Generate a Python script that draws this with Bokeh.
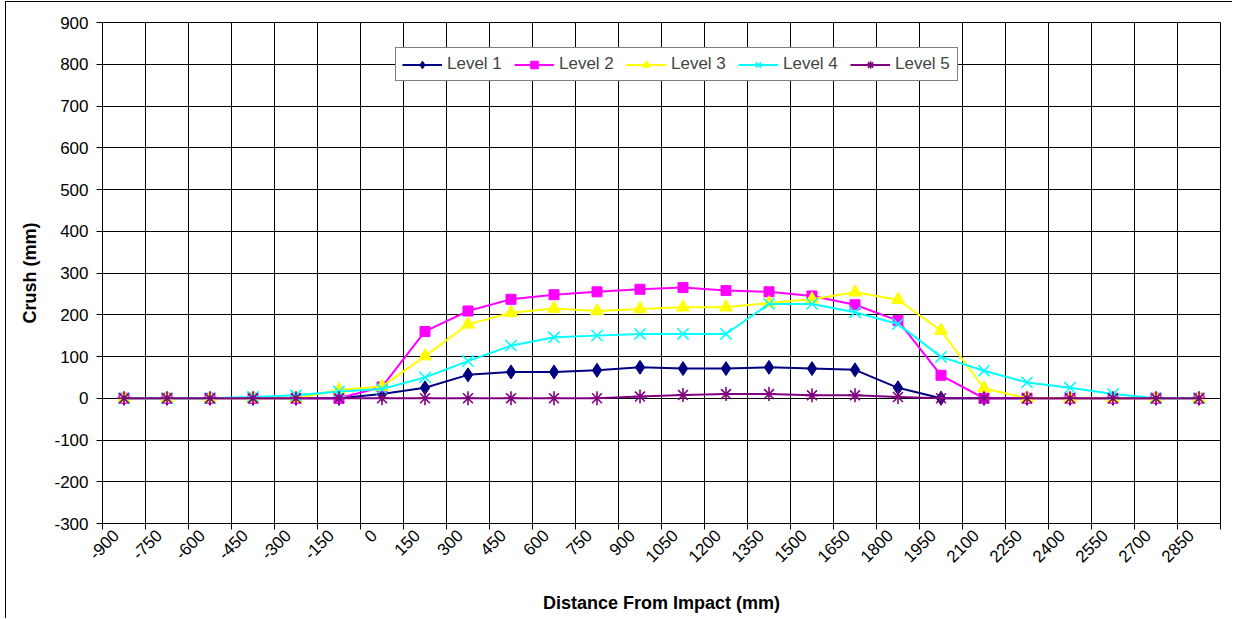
import math
from bokeh.plotting import figure
from bokeh.models import FixedTicker, Range1d, Legend, LegendItem
from bokeh.embed import file_html
from bokeh.resources import INLINE

# ---- data ----
distance = [-900, -750, -600, -450, -300, -150, 0, 150, 300, 450, 600, 750, 900,
            1050, 1200, 1350, 1500, 1650, 1800, 1950, 2100, 2250, 2400, 2550, 2700, 2850]
level1 = [0, 0, 0, 0, 0, 0, 10, 25, 56, 63, 63, 67, 74, 71, 71, 74, 71, 68, 25, 0, 0, 0, 0, 0, 0, 0]
level2 = [0, 0, 0, 0, 0, 0, 27, 160, 209, 237, 248, 255, 261, 265, 258, 255, 245, 224, 186, 55, 0, 0, 0, 0, 0, 0]
level3 = [0, 0, 0, 0, 0, 20, 28, 101, 177, 205, 215, 209, 214, 218, 218, 228, 237, 254, 236, 162, 24, 0, 0, 0, 0, 0]
level4 = [0, 0, 0, 3, 7, 16, 22, 50, 89, 126, 146, 150, 154, 154, 154, 226, 226, 206, 178, 99, 66, 38, 25, 10, 0, 0]
level5 = [0, 0, 0, 0, 0, 0, 0, 0, 0, 0, 0, 0, 4, 8, 10, 10, 7, 7, 3, 0, 0, 0, 0, 0, 0, 0]
series_names = ["Level 1", "Level 2", "Level 3", "Level 4", "Level 5"]
y_ticks = [-300, -200, -100, 0, 100, 200, 300, 400, 500, 600, 700, 800, 900]

FONT = "Liberation Sans"
step = 150
boundaries = [distance[0] - step / 2 + step * k for k in range(len(distance) + 1)]
label_shift = step * 8 / 43  # rotated labels sit slightly left of the category centre
label_pos = [d - label_shift for d in distance]

p = figure(width=1227, height=617, output_backend="svg", toolbar_location=None,
           x_range=Range1d(boundaries[0], boundaries[-1]), y_range=Range1d(-300, 900),
           min_border_left=96, min_border_right=13, min_border_top=20, min_border_bottom=96)
p.styles = {"margin-left": "5px", "margin-top": "1px",
            "border-left": "1px solid black", "border-top": "1px solid black"}
p.background_fill_color = "white"
p.border_fill_color = "white"
p.outline_line_color = "black"
p.outline_line_width = 1

# x axis (category style: labels at centres, ticks & grid at boundaries)
p.xaxis.ticker = FixedTicker(ticks=label_pos, minor_ticks=boundaries)
p.xaxis.major_label_overrides = {lp: str(d) for lp, d in zip(label_pos, distance)}
p.xaxis.major_tick_line_color = None
p.xaxis.minor_tick_line_color = "black"
p.xaxis.minor_tick_out = 6
p.xaxis.minor_tick_in = 0
p.xaxis.major_label_orientation = math.pi / 4
p.xaxis.major_label_standoff = 3
p.xaxis.axis_label = "Distance From Impact (mm)"
p.xaxis.axis_label_standoff = 22
p.xgrid.ticker = FixedTicker(ticks=boundaries)

# y axis
p.yaxis.ticker = FixedTicker(ticks=y_ticks)
p.yaxis.major_label_overrides = {v: str(v) for v in y_ticks}
p.yaxis.minor_tick_line_color = None
p.yaxis.major_tick_out = 6
p.yaxis.major_tick_in = 0
p.yaxis.major_label_standoff = 8
p.yaxis.axis_label = "Crush (mm)"
p.yaxis.axis_label_standoff = 11

for ax in (p.xaxis, p.yaxis):
    ax.axis_line_color = "black"
    ax.major_label_text_font = FONT
    ax.major_label_text_font_size = "17px"
    ax.major_label_text_color = "black"
    ax.axis_label_text_font = FONT
    ax.axis_label_text_font_size = "18px"
    ax.axis_label_text_font_style = "bold"
    ax.axis_label_text_color = "black"

for g in (p.xgrid, p.ygrid):
    g.grid_line_color = "black"
    g.grid_line_alpha = 1
    g.grid_line_width = 1

colors = ["#000080", "#FF00FF", "#FFFF00", "#00FFFF", "#800080"]
markers = ["diamond", "square", "triangle", "x", "asterisk"]
sizes = [14, 10, 13, 16, 14]
series = [level1, level2, level3, level4, level5]

items = []
for name, vals, c, m, s in zip(series_names, series, colors, markers, sizes):
    lr = p.line(distance, vals, line_color=c, line_width=2)
    if m in ("x", "asterisk"):
        sr = p.scatter(distance, vals, marker=m, size=s, line_color=c, line_width=1.6)
    else:
        sr = p.scatter(distance, vals, marker=m, size=s, fill_color=c, line_color=c)
    items.append(LegendItem(label=name, renderers=[lr, sr]))

legend = Legend(items=items, orientation="horizontal", location=(293, 442),
                border_line_color="black", border_line_width=1,
                background_fill_color="white", background_fill_alpha=1,
                label_text_font=FONT, label_text_font_size="17px",
                glyph_width=40, glyph_height=19, label_height=19, label_width=56,
                label_standoff=5, spacing=11, padding=6, margin=0)
p.add_layout(legend)

open("out.html", "w").write(file_html(p, INLINE))
